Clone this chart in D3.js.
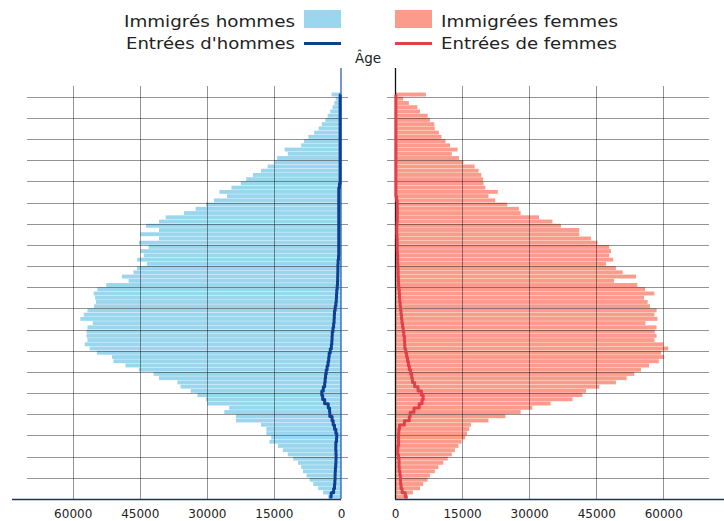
<!DOCTYPE html>
<html>
<head>
<meta charset="utf-8">
<script src="https://cdn.jsdelivr.net/npm/d3@7"></script>
<style>
  body { margin: 0; background: #fff; }
  text { font-family: "DejaVu Sans", Verdana, sans-serif; fill: #222; }
</style>
</head>
<body>
<div id="chart"></div>
<script>
// ages 0..95, one bar per age
const ages = d3.range(0, 96);

const immHommes = [
  2900, 4000, 5100, 6200, 7000, 7700, 8500, 8900, 9600, 10700,
  11900, 13000, 14100, 16000, 15600, 16700, 16700, 17900, 23500, 23500,
  26100, 25000, 29900, 30200, 32100, 33600, 35900, 36600, 40700, 41900,
  45200, 48200, 50900, 51200, 54600, 56200, 57300, 56700, 56900, 56900,
  56700, 55500, 58300, 57500, 56700, 55200, 54800, 55000, 55300, 54500,
  52500, 47500, 49000, 46400, 45600, 43400, 45600, 44100, 44900, 43000,
  45200, 40700, 44900, 40700, 43600, 40700, 39200, 35100, 32500, 30200,
  28400, 25500, 27200, 24500, 22400, 21200, 19700, 17900, 16400, 14900,
  14300, 11900, 12600, 8900, 8300, 7300, 6000, 5000, 4300, 3500,
  3000, 2400, 1900, 1500, 1200, 2100
];

const immFemmes = [
  2900, 4000, 5600, 6300, 7300, 7800, 8900, 9700, 10800, 11800,
  12700, 13400, 14200, 14900, 15700, 16100, 16600, 17000, 20900, 24700,
  28100, 30700, 34800, 39700, 41900, 42700, 45700, 49400, 51800, 53500,
  55000, 56800, 59000, 60200, 59500, 61100, 60000, 58000, 58500, 58100,
  58500, 56000, 58700, 58000, 58500, 57000, 56500, 55700, 58000, 55900,
  54200, 49000, 53900, 50900, 49400, 47200, 48800, 47900, 48300, 47900,
  45300, 43800, 41200, 41200, 37100, 35200, 32200, 28100, 27700, 25100,
  22400, 20900, 23000, 20200, 19800, 19700, 19300, 18700, 17800, 15300,
  14300, 12700, 14000, 12300, 11300, 10400, 9800, 8900, 8800, 7800,
  7300, 5600, 5000, 3100, 1800, 6900
];

const entreesHommes = [
  2600, 1800, 1500, 1400, 1350, 1300, 1300, 1200, 1150, 1100,
  1100, 1150, 1200, 1100, 900, 1000, 1300, 1600, 1900, 2100,
  2900, 2200, 3500, 3800, 4400, 4200, 3700, 3600, 3500, 3400,
  3200, 3000, 2800, 2700, 2600, 2200, 2100, 2000, 2000, 1900,
  1700, 1600, 1500, 1500, 1400, 1200, 1100, 1000, 1000, 900,
  800, 750, 750, 700, 700, 700, 600, 500, 500, 500,
  500, 500, 500, 500, 500, 500, 500, 500, 500, 500,
  500, 500, 500, 500, 200, 200, 200, 200, 200, 200,
  200, 200, 200, 200, 200, 200, 200, 200, 200, 200,
  200, 200, 200, 200, 200, 150
];

const entreesFemmes = [
  2800, 1800, 1400, 1300, 1200, 1200, 1000, 900, 900, 900,
  700, 500, 800, 800, 800, 800, 900, 1100, 3100, 3300,
  3500, 5000, 5800, 6300, 6300, 5500, 4800, 4000, 3800, 3700,
  3300, 3100, 2900, 2700, 2500, 2300, 2100, 2200, 2000, 1900,
  1800, 1600, 1500, 1400, 1300, 1200, 1100, 1000, 1000, 900,
  800, 800, 700, 700, 700, 600, 600, 600, 500, 500,
  500, 500, 400, 400, 400, 500, 500, 500, 500, 500,
  500, 200, 200, 200, 200, 200, 200, 200, 200, 200,
  200, 200, 200, 200, 200, 200, 200, 200, 200, 200,
  200, 200, 200, 200, 200, 200
];

const tickValues = [0, 15000, 30000, 45000, 60000];
const ageGrid = d3.range(5, 100, 5);

const W = 724, H = 521;
const blue = "#9ad7ee", pink = "#fb9b8b";
const blueLine = "#0d3f92", redLine = "#e1414b";

const svg = d3.select("#chart").append("svg")
  .attr("width", W)
  .attr("height", H);

const y = d3.scaleLinear().domain([0, 95]).range([499, 96.8]);
const xL = d3.scaleLinear().domain([0, 60000]).range([341, 72.7]);
const xR = d3.scaleLinear().domain([0, 60000]).range([395, 663.3]);

const barH = y(0) - y(1);

// bars
svg.append("g").selectAll("rect")
  .data(ages)
  .enter().append("rect")
  .attr("x", d => xL(immHommes[d]))
  .attr("y", d => y(d + 1))
  .attr("width", d => xL(0) - xL(immHommes[d]))
  .attr("height", barH - 0.35)
  .attr("fill", blue);

svg.append("g").selectAll("rect")
  .data(ages)
  .enter().append("rect")
  .attr("x", xR(0))
  .attr("y", d => y(d + 1))
  .attr("width", d => xR(immFemmes[d]) - xR(0))
  .attr("height", barH - 0.35)
  .attr("fill", pink);

// grid
const grid = svg.append("g")
  .attr("stroke", "#000")
  .attr("stroke-opacity", 0.42)
  .attr("stroke-width", 1);

grid.selectAll(".hl")
  .data(ageGrid)
  .enter().append("line")
  .attr("x1", 27).attr("x2", 348)
  .attr("y1", d => Math.round(y(d)) + 0.5)
  .attr("y2", d => Math.round(y(d)) + 0.5);

grid.selectAll(".hr")
  .data(ageGrid)
  .enter().append("line")
  .attr("x1", 387).attr("x2", 709)
  .attr("y1", d => Math.round(y(d)) + 0.5)
  .attr("y2", d => Math.round(y(d)) + 0.5);

grid.selectAll(".vl")
  .data(tickValues.slice(1))
  .enter().append("line")
  .attr("x1", d => Math.round(xL(d)) + 0.5)
  .attr("x2", d => Math.round(xL(d)) + 0.5)
  .attr("y1", 86).attr("y2", 499);

grid.selectAll(".vr")
  .data(tickValues.slice(1))
  .enter().append("line")
  .attr("x1", d => Math.round(xR(d)) + 0.5)
  .attr("x2", d => Math.round(xR(d)) + 0.5)
  .attr("y1", 86).attr("y2", 499);

// axes lines
svg.append("line")
  .attr("x1", 341).attr("x2", 341)
  .attr("y1", 68).attr("y2", 499)
  .attr("stroke", "#2a62b4").attr("stroke-width", 1.3);
svg.append("line")
  .attr("x1", 395.5).attr("x2", 395.5)
  .attr("y1", 68).attr("y2", 499)
  .attr("stroke", "#111").attr("stroke-width", 1.3);

// entries lines
const lineL = d3.line()
  .x(d => xL(entreesHommes[d]))
  .y(d => y(d + 0.5))
  .curve(d3.curveStep);
const lineR = d3.line()
  .x(d => xR(entreesFemmes[d]))
  .y(d => y(d + 0.5))
  .curve(d3.curveStep);

svg.append("path")
  .attr("d", lineL(ages))
  .attr("fill", "none")
  .attr("stroke", blueLine)
  .attr("stroke-width", 3)
  .attr("stroke-linejoin", "round");
svg.append("path")
  .attr("d", lineR(ages))
  .attr("fill", "none")
  .attr("stroke", redLine)
  .attr("stroke-width", 3)
  .attr("stroke-linejoin", "round");

// bottom axes
const axL = svg.append("g")
  .attr("transform", "translate(0,499)")
  .call(d3.axisBottom(xL).tickValues(tickValues).tickSize(0).tickPadding(10.5).tickFormat(d3.format("d")));
const axR = svg.append("g")
  .attr("transform", "translate(0,499)")
  .call(d3.axisBottom(xR).tickValues(tickValues).tickSize(0).tickPadding(10.5).tickFormat(d3.format("d")));
[axL, axR].forEach(a => {
  a.select(".domain").remove();
  a.selectAll("text")
    .attr("font-family", "DejaVu Sans, Verdana, sans-serif")
    .attr("font-size", 12)
    .attr("fill", "#2b2b2b");
});

svg.append("line")
  .attr("x1", 12).attr("x2", 341)
  .attr("y1", 499.5).attr("y2", 499.5)
  .attr("stroke", "#1c2f6e").attr("stroke-width", 1.3);
svg.append("line")
  .attr("x1", 395).attr("x2", 724)
  .attr("y1", 499.5).attr("y2", 499.5)
  .attr("stroke", "#1c2f6e").attr("stroke-width", 1.3);

// Age label
svg.append("text")
  .text("Âge")
  .attr("x", 368)
  .attr("y", 63)
  .attr("text-anchor", "middle")
  .attr("font-size", 13.5);

// legend
const legend = svg.append("g");
legend.append("rect")
  .attr("x", 304).attr("y", 10).attr("width", 37).attr("height", 18)
  .attr("fill", blue);
legend.append("rect")
  .attr("x", 395).attr("y", 10).attr("width", 37).attr("height", 18)
  .attr("fill", pink);
legend.append("line")
  .attr("x1", 304).attr("x2", 341).attr("y1", 43.5).attr("y2", 43.5)
  .attr("stroke", blueLine).attr("stroke-width", 3);
legend.append("line")
  .attr("x1", 395).attr("x2", 432).attr("y1", 43.5).attr("y2", 43.5)
  .attr("stroke", redLine).attr("stroke-width", 3);

const legendItems = [
  { t: "Immigrés hommes", x: 295, y: 26.5, a: "end", w: 171 },
  { t: "Entrées d'hommes", x: 295, y: 48.5, a: "end", w: 169 },
  { t: "Immigrées femmes", x: 441, y: 26.5, a: "start", w: 177 },
  { t: "Entrées de femmes", x: 441, y: 48.5, a: "start", w: 176 }
];
legend.selectAll(".lt")
  .data(legendItems)
  .enter().append("text")
  .text(d => d.t)
  .attr("x", d => d.x)
  .attr("y", d => d.y)
  .attr("text-anchor", d => d.a)
  .attr("font-size", 16)
  .attr("textLength", d => d.w)
  .attr("lengthAdjust", "spacingAndGlyphs");
</script>
</body>
</html>
